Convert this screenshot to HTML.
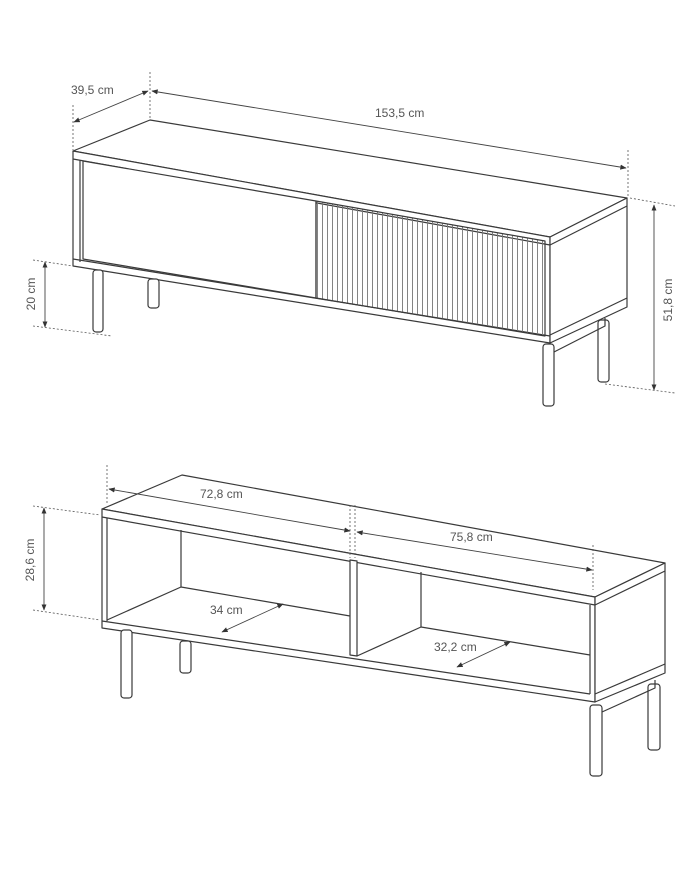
<!DOCTYPE html>
<html><head><meta charset="utf-8"><style>
html,body{margin:0;padding:0;background:#fff;}
svg{display:block;}
text{font-family:"Liberation Sans",sans-serif;font-size:12px;fill:#555;}
</style></head><body>
<svg width="700" height="869" viewBox="0 0 700 869" xmlns="http://www.w3.org/2000/svg">
<defs>
<pattern id="fl" patternUnits="userSpaceOnUse" width="5" height="10">
<line x1="2.5" y1="0" x2="2.5" y2="10" stroke="#777" stroke-width="0.9"/>
</pattern>
<marker id="ar" viewBox="0 0 10 10" refX="9" refY="5" markerWidth="7" markerHeight="7" orient="auto-start-reverse">
<path d="M0,1 L10,5 L0,9 z" fill="#333"/>
</marker>
</defs>
<g fill="none" stroke="#3a3a3a" stroke-width="1.2" stroke-linejoin="round">
<polygon points="73,151 150,120 627,198 550,237" fill="#fff"/>
<polygon points="73,151 550,237 550,343 73,266" fill="#fff"/>
<polygon points="550,237 627,198 627,307 550,343" fill="#fff"/>
<line x1="73" y1="159" x2="550" y2="245"/>
<line x1="550" y1="245" x2="627" y2="206"/>
<line x1="80" y1="160" x2="80" y2="262"/>
<line x1="550" y1="335" x2="627" y2="298"/>
<line x1="73" y1="259" x2="550" y2="336"/>
<polygon points="83,161 316,201 316,298 83,259" fill="#fff"/>
<polygon points="316,201 545,241 545,336 316,298" fill="url(#fl)"/>
<rect x="93" y="270" width="10" height="62" rx="3" fill="#fff"/>
<rect x="148" y="279" width="11" height="29" rx="3" fill="#fff"/>
<rect x="543" y="344" width="11" height="62" rx="3" fill="#fff"/>
<rect x="598" y="320" width="11" height="62" rx="3" fill="#fff"/>
<polyline points="554,352 605,326 605,318"/>
<polygon points="102,509 182,475 665,563 595,597" fill="#fff"/>
<polygon points="102,509 595,597 595,702 102,628" fill="#fff"/>
<polygon points="595,597 665,563 665,673 595,702" fill="#fff"/>
<line x1="102" y1="517" x2="595" y2="605"/>
<line x1="595" y1="605" x2="665" y2="571"/>
<line x1="107" y1="518" x2="107" y2="621"/>
<line x1="102" y1="621" x2="590" y2="694"/>
<line x1="595" y1="694" x2="665" y2="664"/>
<line x1="590" y1="605" x2="590" y2="694"/>
<line x1="181" y1="530" x2="181" y2="587"/>
<line x1="181" y1="587" x2="350" y2="616"/>
<line x1="107" y1="620" x2="181" y2="587"/>
<polygon points="350,560 357,561 357,656 350,655" fill="#fff"/>
<line x1="357" y1="656" x2="421" y2="627"/>
<line x1="421" y1="572" x2="421" y2="627"/>
<line x1="421" y1="627" x2="590" y2="655"/>
<rect x="121" y="630" width="11" height="68" rx="3" fill="#fff"/>
<rect x="180" y="641" width="11" height="32" rx="3" fill="#fff"/>
<rect x="590" y="705" width="12" height="71" rx="3" fill="#fff"/>
<rect x="648" y="684" width="12" height="66" rx="3" fill="#fff"/>
<polyline points="602,712 655,688 655,680"/>
</g>
<g stroke="#555" stroke-width="0.8" fill="none" stroke-dasharray="2,2">
<line x1="73" y1="105" x2="73" y2="150"/>
<line x1="150" y1="72" x2="150" y2="118"/>
<line x1="628" y1="150" x2="628" y2="197"/>
<line x1="630" y1="198" x2="675" y2="206"/>
<line x1="605" y1="384" x2="675" y2="393"/>
<line x1="33" y1="260" x2="73" y2="266"/>
<line x1="33" y1="326" x2="112" y2="336"/>
<line x1="107" y1="465" x2="107" y2="505"/>
<line x1="350" y1="505" x2="350" y2="558"/>
<line x1="355" y1="505" x2="355" y2="558"/>
<line x1="593" y1="545" x2="593" y2="590"/>
<line x1="33" y1="506" x2="100" y2="515"/>
<line x1="33" y1="610" x2="100" y2="620"/>
</g>
<g stroke="#444" stroke-width="0.9" fill="none" marker-start="url(#ar)" marker-end="url(#ar)">
<line x1="74" y1="122" x2="148" y2="91"/>
<line x1="152" y1="91" x2="626" y2="168"/>
<line x1="654" y1="205" x2="654" y2="390"/>
<line x1="45" y1="262" x2="45" y2="327"/>
<line x1="109" y1="489" x2="350" y2="531"/>
<line x1="357" y1="532" x2="592" y2="570"/>
<line x1="44" y1="508" x2="44" y2="610"/>
<line x1="222" y1="632" x2="283" y2="604"/>
<line x1="457" y1="667" x2="510" y2="642"/>
</g>
<text x="71" y="94">39,5 cm</text>
<text x="375" y="117">153,5 cm</text>
<text transform="translate(672,300) rotate(-90)" text-anchor="middle">51,8 cm</text>
<text transform="translate(35,294) rotate(-90)" text-anchor="middle">20 cm</text>
<text x="200" y="498">72,8 cm</text>
<text x="450" y="541">75,8 cm</text>
<text transform="translate(34,560) rotate(-90)" text-anchor="middle">28,6 cm</text>
<text x="210" y="614">34 cm</text>
<text x="434" y="651">32,2 cm</text>
</svg>
</body></html>
